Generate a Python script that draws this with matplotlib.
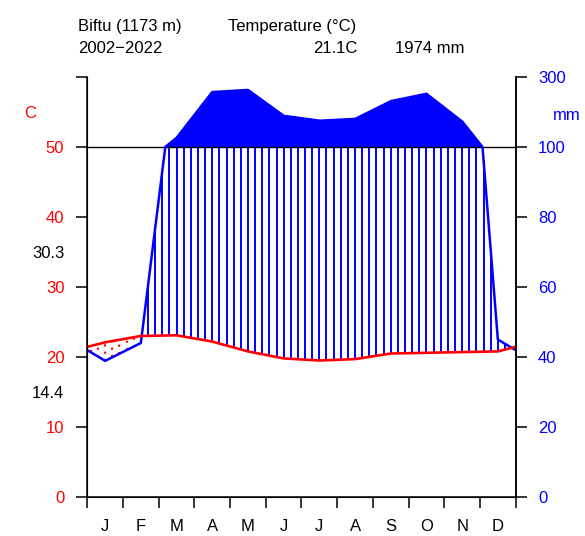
import numpy as np
import matplotlib
matplotlib.use("Agg")
import matplotlib.pyplot as plt

plt.rcParams['font.family'] = ['Liberation Sans', 'DejaVu Sans']

station = "Biftu (1173 m)"
period = "2002\u22122022"
months = ["J", "F", "M", "A", "M", "J", "J", "A", "S", "O", "N", "D"]
temp = [22.1, 23.0, 23.1, 22.2, 20.8, 19.8, 19.5, 19.7, 20.5, 20.6, 20.7, 20.8]
prec = [38.9, 44.0, 126, 257, 263, 189, 175, 180, 231, 252, 173, 45]
t_max_warm = 30.3
t_min_cold = 14.4
left_ticks = [0, 10, 20, 30, 40, 50, 60]
left_labels = ["0", "10", "20", "30", "40", "50", ""]
right_labels = ["0", "20", "40", "60", "80", "100", "300"]

red = "#ff0000"
blue = "#0000ff"


def compress(p):
	# mm -> temperature scale, 1/10 scale above 100 mm
	p = np.asarray(p, dtype=float)
	return np.where(p <= 100, p / 2, 50 + (p - 100) / 20)


# month centres plus both edges
xm = np.concatenate([[0], np.arange(12) + 0.5, [12]])
tm = np.concatenate([[(temp[0] + temp[-1]) / 2], temp, [(temp[0] + temp[-1]) / 2]])
pm = np.concatenate([[(prec[0] + prec[-1]) / 2], prec, [(prec[0] + prec[-1]) / 2]])

xf = np.linspace(0, 12, 2401)
tf = np.interp(xf, xm, tm)
pf = np.interp(xf, xm, pm)
pc = compress(pf)

fig = plt.figure(figsize=(5.85, 5.36), dpi=100)
ax = fig.add_axes([87.3 / 585, 39 / 536, 428.4 / 585, 420 / 536])
ax.set_xlim(0, 12)
ax.set_ylim(0, 60)

# hatching: humid (blue) and dry (red dotted)
for xh in np.arange(0.1, 12, 0.2):
	t = np.interp(xh, xm, tm)
	p = min(np.interp(xh, xm, pm), 100) / 2
	if p > t:
		ax.plot([xh, xh], [t, p], color=blue, lw=1.4, solid_capstyle="butt")
	else:
		ax.plot([xh, xh], [p, t], color=red, lw=1.5, linestyle=(0, (1, 2.5)))

ax.fill_between(xf, 50, pc, where=pc >= 50, color=blue, lw=0)
ax.axhline(50, color="black", lw=1)
ax.plot(xf, pc, color=blue, lw=1.8)
ax.plot(xm, tm, color=red, lw=1.9)

ax.spines["top"].set_visible(False)
for s in ["left", "right", "bottom"]:
	ax.spines[s].set_linewidth(1.1)

ax.set_yticks(left_ticks)
ax.set_yticklabels(left_labels, color=red, fontsize=12)
ax.tick_params(axis="y", length=8, width=1.1, pad=8.5)

ax.set_xticks(np.arange(13))
ax.set_xticklabels([])
ax.set_xticks(np.arange(12) + 0.5, minor=True)
ax.set_xticklabels(months, minor=True, fontsize=12)
ax.tick_params(axis="x", which="major", length=8, width=1.1)
ax.tick_params(axis="x", which="minor", length=0, pad=16)

ax2 = ax.twinx()
ax2.set_ylim(0, 60)
ax2.set_yticks(left_ticks)
ax2.set_yticklabels(right_labels, color=blue, fontsize=12)
ax2.tick_params(axis="y", length=8, width=1.1, pad=8)
ax2.spines["top"].set_visible(False)
ax2.spines["right"].set_linewidth(1.1)

ax.text(-0.65, 34.8, f"{t_max_warm}", ha="right", va="center", fontsize=12)
ax.text(-0.65, 14.8, f"{t_min_cold}", ha="right", va="center", fontsize=12)

fig.text(30 / 585, 1 - 113 / 536, "C", color=red, ha="center", va="center", fontsize=12)
fig.text(567 / 585, 1 - 115 / 536, "mm", color=blue, ha="center", va="center", fontsize=12)

fig.text(78 / 585, 1 - 31 / 536, station, ha="left", va="baseline", fontsize=12)
fig.text(78 / 585, 1 - 53 / 536, period, ha="left", va="baseline", fontsize=12)
fig.text(228 / 585, 1 - 31 / 536, "Temperature (\u00b0C)", ha="left", va="baseline", fontsize=12)
fig.text(358 / 585, 1 - 53 / 536, f"{np.mean(temp):.1f}C", ha="right", va="baseline", fontsize=12)
fig.text(395 / 585, 1 - 53 / 536, f"{round(sum(prec))} mm", ha="left", va="baseline", fontsize=12)

fig.savefig("out.png", dpi=100)
